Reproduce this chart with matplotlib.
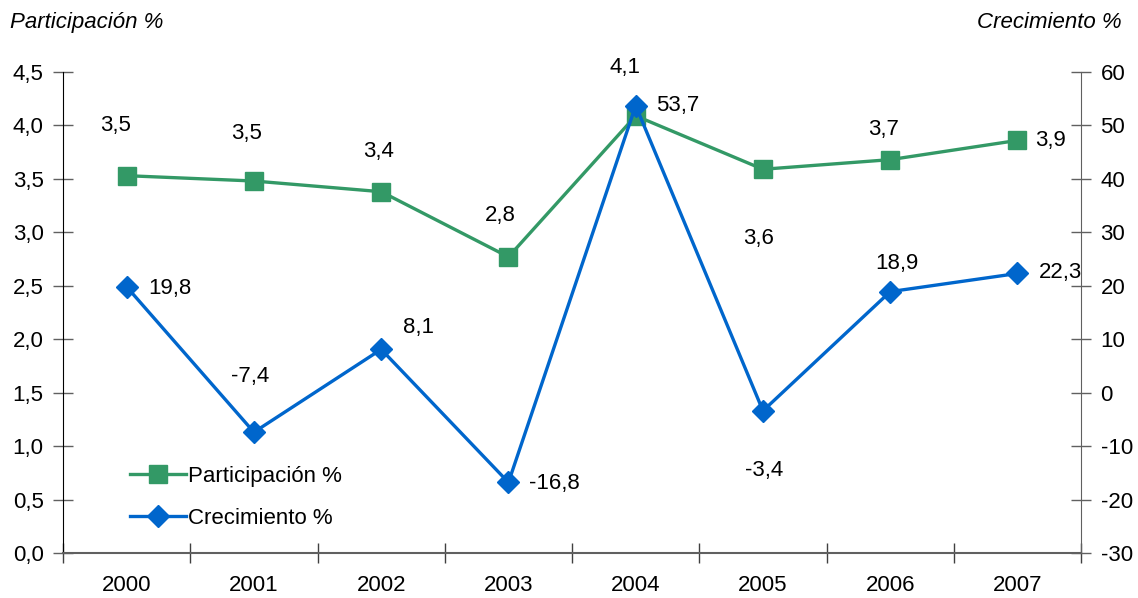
import matplotlib
matplotlib.use("Agg")
import matplotlib.pyplot as plt
from matplotlib.ticker import FixedLocator, FuncFormatter

plt.rcParams['font.family'] = ['Liberation Sans', 'DejaVu Sans']

years = ["2000", "2001", "2002", "2003", "2004", "2005", "2006", "2007"]
participacion = [3.53, 3.48, 3.38, 2.77, 4.09, 3.59, 3.68, 3.86]
participacion_labels = ["3,5", "3,5", "3,4", "2,8", "4,1", "3,6", "3,7", "3,9"]
crecimiento = [19.8, -7.4, 8.1, -16.8, 53.7, -3.4, 18.9, 22.3]

GREEN = "#339966"
BLUE = "#0066CC"
FS = 16

fig = plt.figure(figsize=(11.38, 5.98), dpi=100)
ax = fig.add_axes([0.0554, 0.0753, 0.8946, 0.8043])
ax2 = ax.twinx()

x = list(range(len(years)))

l1, = ax.plot(x, participacion, color=GREEN, lw=2.4, marker="s", ms=13,
              label="Participación %", zorder=3)
l2, = ax2.plot(x, crecimiento, color=BLUE, lw=2.4, marker="D", ms=11,
               label="Crecimiento %", zorder=3)

ax.set_xlim(-0.5, len(years) - 0.5)
ax.set_ylim(0, 4.5)
ax2.set_ylim(-30, 60)

comma = FuncFormatter(lambda v, p: f"{v:.1f}".replace(".", ","))
ax.yaxis.set_major_locator(FixedLocator([i * 0.5 for i in range(10)]))
ax.yaxis.set_major_formatter(comma)
ax2.yaxis.set_major_locator(FixedLocator(list(range(-30, 61, 10))))
ax2.yaxis.set_major_formatter(FuncFormatter(lambda v, p: f"{int(v)}"))

# category ticks on band boundaries, labels centered on each band
ax.set_xticks([i - 0.5 for i in range(len(years) + 1)])
ax.set_xticklabels([])
ax.set_xticks(x, minor=True)
ax.set_xticklabels(years, minor=True, fontsize=FS)
ax.tick_params(axis="x", which="minor", length=0, pad=16)
ax.tick_params(axis="x", which="major", direction="inout", length=14,
               color="#404040", width=1)
ax.tick_params(axis="y", direction="inout", length=14, color="#606060",
               width=1, labelsize=FS, pad=7)
ax2.tick_params(axis="y", direction="inout", length=14, color="#606060",
                width=1, labelsize=FS, pad=7)

for s in ["top"]:
    ax.spines[s].set_visible(False)
    ax2.spines[s].set_visible(False)
ax.spines["right"].set_visible(False)
ax2.spines["left"].set_visible(False)
ax2.spines["bottom"].set_visible(False)
ax.spines["left"].set_color("black")
ax.spines["bottom"].set_color("#606060")
ax2.spines["right"].set_color("#606060")
ax.spines["bottom"].set_linewidth(1.5)

# value labels (offsets in points)
p_offsets = [(-8, 36), (-5, 34), (-2, 29), (-6, 30), (-8, 35), (-3, -50), (-5, 22), (24, 0)]
for xi, v, lab, off in zip(x, participacion, participacion_labels, p_offsets):
    ax.annotate(lab, (xi, v), xytext=off, textcoords="offset points",
                ha="center", va="center", fontsize=FS, zorder=5)

c_offsets = [(31, -1), (-3, 40), (27, 16), (33, -1), (30, 0), (1, -43), (5, 20), (31, 1)]
for xi, v, off in zip(x, crecimiento, c_offsets):
    ax2.annotate(f"{v:.1f}".replace(".", ","), (xi, v), xytext=off,
                 textcoords="offset points", ha="center", va="center",
                 fontsize=FS, zorder=5)

fig.text(0.009, 0.962, "Participación %", fontsize=FS, style="italic",
         ha="left", va="center")
fig.text(0.986, 0.962, "Crecimiento %", fontsize=FS, style="italic",
         ha="right", va="center")

leg = ax2.legend(handles=[l1, l2], loc="upper left",
                 bbox_to_anchor=(0.097, 0.255), bbox_transform=fig.transFigure,
                 frameon=False, fontsize=FS, handlelength=2.5,
                 handletextpad=0.1, labelspacing=0.95)

fig.savefig("out.png", dpi=100)
